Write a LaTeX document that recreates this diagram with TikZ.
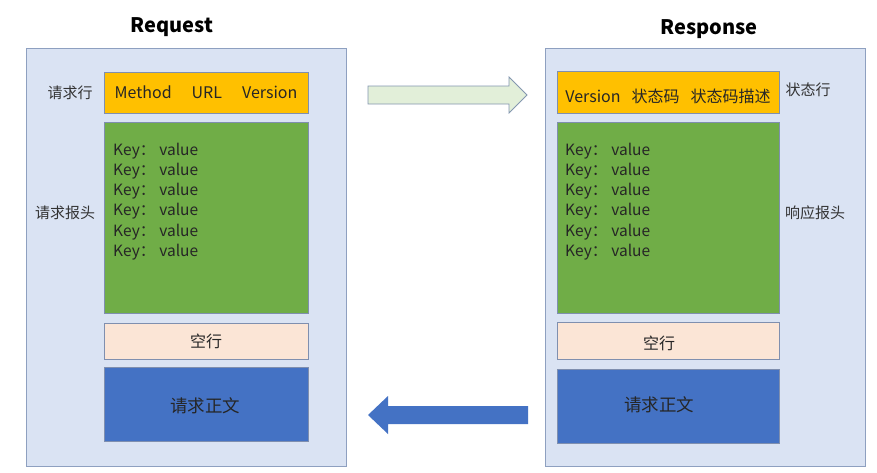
\documentclass[tikz,border=0pt]{standalone}
\usepackage{fontspec}
\setmainfont{Noto Sans CJK SC}
\usetikzlibrary{positioning}

\definecolor{panelfill}{HTML}{DAE3F3}
\definecolor{panelline}{HTML}{8EA0C0}
\definecolor{lineorange}{HTML}{FFC000}
\definecolor{headgreen}{HTML}{70AD47}
\definecolor{blankpeach}{HTML}{FBE5D6}
\definecolor{bodyblue}{HTML}{4472C4}
\definecolor{boxline}{HTML}{7F8FAF}
\definecolor{sendfill}{HTML}{E2EFD9}
\definecolor{sendline}{HTML}{8497B0}

\tikzset{
  panel/.style={draw=panelline,fill=panelfill,line width=0.8pt},
  part/.style={draw=boxline,line width=0.8pt},
  title/.style={font=\fontsize{20}{24}\selectfont\bfseries},
  side/.style={font=\fontsize{15}{18}\selectfont,text=black!80},
  field/.style={font=\fontsize{16}{19}\selectfont,text=black!85,inner sep=0pt},
  bodytext/.style={font=\fontsize{17.5}{21}\selectfont,text=black!85,inner sep=0pt},
  keyline/.style={font=\fontsize{15.5}{18}\selectfont,text=black!85,anchor=west,inner sep=0pt}
}

\begin{document}
\begin{tikzpicture}[x=1pt,y=-1pt]

\useasboundingbox[fill=white] (0,0) rectangle (877,472);

% request side
\draw[panel] (26,48) rectangle (346,466);
\node[title] (req) at (172,27){Request};
\draw[part,fill=lineorange] (104,72) rectangle (308,113);
\node[field] (reqline) at (206,92){Method\hspace{20pt}URL\hspace{20pt}Version};
\draw[part,fill=headgreen] (104,122) rectangle (308,313);
\foreach \i in {0,...,5}
  \node[keyline] (rk\i) at (113,151+20.2*\i){Key：\hspace{4pt}value};
\draw[part,fill=blankpeach] (104,323) rectangle (308,359);
\node[field] (rblank) at (206,341){空行};
\draw[part,fill=bodyblue] (104,367) rectangle (308,441);
\node[bodytext] (rbody) at (205,406){请求正文};
\node[side] (l1) at (70,93){请求行};
\node[side] (l2) at (65,213){请求报头};

% response side
\draw[panel] (545,48) rectangle (865,466);
\node[title] (resp) at (709,29){Response};
\draw[part,fill=lineorange] (557,71) rectangle (779,113);
\node[field] (statline) at (668,96){Version\hspace{11pt}状态码\hspace{11pt}状态码描述};
\draw[part,fill=headgreen] (557,122) rectangle (779,313);
\foreach \i in {0,...,5}
  \node[keyline] (sk\i) at (565,151+20.2*\i){Key：\hspace{4pt}value};
\draw[part,fill=blankpeach] (557,322) rectangle (779,359);
\node[field] (sblank) at (659,343){空行};
\draw[part,fill=bodyblue] (557,369) rectangle (779,443);
\node[bodytext] (sbody) at (659,405){请求正文};
\node[side] (r1) at (808,90){状态行};
\node[side] (r2) at (815,213){响应报头};

% arrows between the two
\coordinate (go) at (368,95);
\coordinate (back) at (528,415);
\draw[draw=sendline,fill=sendfill,line width=0.8pt]
  (go) ++(0,-9) -- ++(141,0) -- ++(0,-9) -- ++(18,18) -- ++(-18,18) -- ++(0,-9) -- ++(-141,0) -- cycle;
\fill[bodyblue]
  (back) ++(0,-9) -- ++(-140,0) -- ++(0,-10) -- ++(-20,19) -- ++(20,19) -- ++(0,-10) -- ++(140,0) -- cycle;

\end{tikzpicture}
\end{document}
